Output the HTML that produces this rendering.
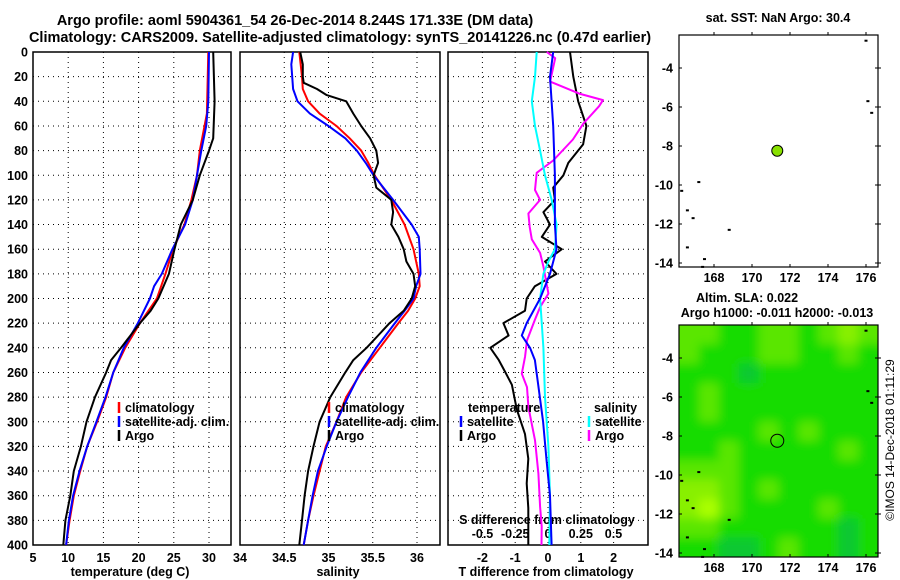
<!DOCTYPE html>
<html><head><meta charset="utf-8"><style>
body{margin:0;background:#fff;}
svg{display:block;font-family:"Liberation Sans",sans-serif;font-weight:bold;}
</style></head><body>
<svg id="chart" width="900" height="580" viewBox="0 0 900 580" xmlns="http://www.w3.org/2000/svg">
<defs>
<clipPath id="mapclip"><rect x="679" y="325" width="199" height="232"/></clipPath>
<filter id="blur" x="-5%" y="-5%" width="110%" height="110%"><feGaussianBlur stdDeviation="5"/></filter>
</defs>
<text x="295" y="25" font-size="14.5" text-anchor="middle">Argo profile: aoml 5904361_54 26-Dec-2014 8.244S 171.33E (DM data)</text>
<text x="340" y="42" font-size="14.5" text-anchor="middle">Climatology: CARS2009. Satellite-adjusted climatology: synTS_20141226.nc (0.47d earlier)</text>
<g id="g"></g>
</svg>
<script>
// ---------- data ----------
const depthTicks=[0,20,40,60,80,100,120,140,160,180,200,220,240,260,280,300,320,340,360,380,400];
const tempTicks=[5,10,15,20,25,30];
const salTicks=[34,34.5,35,35.5,36];
const salTickLabels=['34','34.5','35','35.5','36'];
const dTTicks=[-2,-1,0,1,2];
const dSTicks=[-0.5,-0.25,0,0.25,0.5];
const dSTickLabels=['-0.5','-0.25','0','0.25','0.5'];

const climTDepth=[0,50,80,100,120,140,160,180,200,220,240,260,280,300,320,340,360,380,400];
const climT=[29.9,29.7,28.7,28.3,27.5,26.5,24.9,23.8,22.6,20.2,18.1,16.4,15.4,14.1,12.7,11.7,10.8,10.2,9.7];
const satTDepth=[0,40,60,80,100,120,140,160,180,190,200,220,240,260,280,300,320,340,360,380,400];
const satT=[30.0,29.9,29.6,28.9,28.3,27.7,26.6,24.8,23.3,22.2,21.6,19.9,17.9,16.4,15.3,14.0,12.7,11.6,10.7,10.1,9.7];
const argoTDepth=[0,20,40,70,80,100,120,140,160,180,200,210,220,240,250,260,280,300,320,340,360,380,400];
const argoT=[30.6,30.7,30.8,30.6,30.0,28.7,27.7,26.0,25.1,24.3,22.8,21.7,20.2,17.5,16.1,15.4,13.8,12.6,11.8,10.8,10.3,9.6,9.3];

const climSDepth=[0,20,30,40,50,60,70,80,90,100,120,140,160,180,190,200,210,220,240,260,280,300,320,340,360,380,400];
const climS=[34.67,34.70,34.71,34.77,34.90,35.09,35.24,35.37,35.45,35.52,35.71,35.86,35.96,36.02,36.03,35.98,35.90,35.79,35.58,35.37,35.2,35.09,34.97,34.9,34.83,34.77,34.72];
const satSDepth=[0,10,30,40,50,60,70,80,90,100,120,140,150,160,180,190,200,210,220,240,260,280,300,320,340,360,380,400];
const satS=[34.6,34.58,34.6,34.65,34.79,35.0,35.19,35.32,35.42,35.51,35.73,35.94,36.02,36.03,36.04,35.99,35.96,35.86,35.75,35.54,35.36,35.22,35.09,34.98,34.88,34.82,34.77,34.72];
const argoSDepth=[0,10,20,25,30,35,40,50,60,70,80,90,100,110,120,130,140,150,160,170,180,190,200,210,220,230,240,250,260,280,290,300,320,340,360,380,400];
const argoS=[34.68,34.71,34.71,34.72,34.87,34.98,35.2,35.28,35.37,35.47,35.54,35.56,35.51,35.54,35.71,35.73,35.71,35.79,35.85,35.88,35.96,35.98,35.94,35.85,35.69,35.56,35.43,35.28,35.19,35.02,34.96,34.9,34.83,34.77,34.73,34.70,34.67];

const dSatTDepth=[0,20,60,100,140,160,180,200,220,230,240,250,270,300,330,360,400];
const dSatT=[0.16,0.06,0.16,0.21,0.21,0.26,0.06,-0.24,-0.65,-0.8,-0.55,-0.4,-0.3,-0.15,-0.05,0.06,0.11];
const dArgoTDepth=[0,20,40,60,75,90,100,110,120,130,140,150,160,170,180,190,200,210,220,230,240,250,260,270,290,310,330,350,370,400];
const dArgoT=[0.67,0.77,0.92,1.17,1.07,0.62,0.47,0.16,0.21,-0.14,0.06,-0.19,0.42,-0.09,0.26,-0.4,-0.65,-0.7,-1.36,-1.2,-1.76,-1.5,-1.3,-1.1,-0.95,-0.7,-0.6,-0.65,-0.6,-0.6];
const dSatSDepth=[0,20,40,60,80,100,120,140,160,170,180,200,240,280,320,360,400];
const dSatS=[-0.086,-0.099,-0.124,-0.099,-0.06,-0.023,0.028,0.066,0.053,0.003,-0.035,-0.06,-0.035,-0.023,0.003,0.015,0.01];
const dArgoSDepth=[0,5,24,34,39,44,58,71,88,98,112,120,131,142,152,163,174,196,207,217,234,247,261,272,288,315,342,369,385,400];
const dArgoS=[-0.009,0.055,0.016,0.245,0.42,0.39,0.27,0.19,0.04,-0.086,-0.099,-0.06,-0.15,-0.14,-0.124,-0.06,-0.035,0.003,-0.06,-0.099,-0.16,-0.175,-0.2,-0.16,-0.15,-0.099,-0.073,-0.06,-0.048,-0.05];

const latTicks=[-4,-6,-8,-10,-12,-14];
const lonTicks=[168,170,172,174,176];
const argoLon=171.33, argoLat=-8.244;
const slaGrid=[
[2,2,1,1,2,2,1,2,3,2],
[2,1,1,1,2,2,1,1,2,1],
[1,1,1,0,1,1,1,1,1,1],
[1,2,1,1,1,1,1,1,1,1],
[1,2,1,1,1,1,1,1,1,1],
[1,1,1,1,2,1,2,1,1,1],
[1,1,2,1,1,1,1,1,2,1],
[2,2,2,1,1,1,1,1,1,1],
[3,3,2,1,2,1,1,1,1,1],
[3,4,2,1,1,1,1,2,1,1],
[2,2,1,1,1,1,1,1,0,1],
[1,1,0,0,1,2,1,1,0,1]];

// ---------- helpers ----------
const NS='http://www.w3.org/2000/svg';
const G=document.getElementById('g');
function el(tag,attrs,parent,text){const e=document.createElementNS(NS,tag);for(const k in attrs)e.setAttribute(k,attrs[k]);if(text!==undefined)e.textContent=text;(parent||G).appendChild(e);return e;}
const Y0=52,Y1=545;
const yD=d=>Y0+d*(Y1-Y0)/400;
const xT=t=>33+(t-5)*7.04;
const xS=s=>240+(s-34)*88.5;
const xDT=t=>548+t*32.8;
const xDS=s=>548+s*131;
const panels=[[33,231,'temperature-panel'],[240,440,'salinity-panel'],[448,648,'difference-panel']];

panels.forEach(p=>{
  depthTicks.forEach(d=>{ if(d>0&&d<400){const l=el('line',{x1:p[0],x2:p[1],y1:yD(d),y2:yD(d),stroke:'#000','stroke-width':1,'stroke-dasharray':'1,4'});
  
  }});
});
function vgrid(vals,f,x0,x1){vals.forEach(v=>{const x=f(v);if(x>x0+1&&x<x1-1){const l=el('line',{x1:x,x2:x,y1:Y0,y2:Y1,stroke:'#000','stroke-width':1,'stroke-dasharray':'1,4'});
  
  }});}
vgrid(tempTicks,xT,33,231);vgrid(salTicks,xS,240,440);vgrid(dTTicks,xDT,448,648);

panels.forEach(p=>{const r=el('rect',{x:p[0],y:Y0,width:p[1]-p[0],height:Y1-Y0,fill:'none',stroke:'#000','stroke-width':1.5});
  
  });

depthTicks.forEach(d=>{const t=el('text',{x:28,y:yD(d)+4.5,'font-size':12.5,'text-anchor':'end'},G,String(d));
  
  });
tempTicks.forEach(v=>{const t=el('text',{x:xT(v),y:562,'font-size':12.5,'text-anchor':'middle'},G,String(v));
  
  });
salTicks.forEach((v,i)=>{const t=el('text',{x:xS(v),y:562,'font-size':12.5,'text-anchor':'middle'},G,salTickLabels[i]);
  
  });
dTTicks.forEach(v=>{const t=el('text',{x:xDT(v),y:562,'font-size':12.5,'text-anchor':'middle'},G,String(v));
  
  });
dSTicks.forEach((v,i)=>{const t=el('text',{x:xDS(v),y:538,'font-size':12.5,'text-anchor':'middle'},G,dSTickLabels[i]);
  
  });
[['temperature (deg C)',130,'temperature-axis-title'],['salinity',338,'salinity-axis-title'],['T difference from climatology',546,'t-difference-axis-title']].forEach(a=>{
  const t=el('text',{x:a[1],y:576,'font-size':12.5,'text-anchor':'middle'},G,a[0]);
  
  });
{const t=el('text',{x:547,y:524,'font-size':12.5,'text-anchor':'middle'},G,'S difference from climatology');
  
  }

function series(vals,depths,f,color,name){
  const pts=vals.map((v,i)=>f(v).toFixed(1)+','+yD(depths[i]).toFixed(1)).join(' ');
  const p=el('polyline',{points:pts,fill:'none',stroke:color,'stroke-width':2,'stroke-linejoin':'round'});
  
  
}
series(climT,climTDepth,xT,'#ff0000','climatology-temperature-line');
series(satT,satTDepth,xT,'#0000ff','satellite-temperature-line');
series(argoT,argoTDepth,xT,'#000000','argo-temperature-line');
series(climS,climSDepth,xS,'#ff0000','climatology-salinity-line');
series(satS,satSDepth,xS,'#0000ff','satellite-salinity-line');
series(argoS,argoSDepth,xS,'#000000','argo-salinity-line');
series(dArgoT,dArgoTDepth,xDT,'#000000','argo-t-difference-line');
series(dArgoS,dArgoSDepth,xDS,'#ff00ff','argo-s-difference-line');
series(dSatS,dSatSDepth,xDS,'#00ffff','satellite-s-difference-line');
series(dSatT,dSatTDepth,xDT,'#0000ff','satellite-t-difference-line');

function legend(x,y,color,label,name){
  const g=el('g',{});
  
  
  el('line',{x1:x,x2:x,y1:y-10,y2:y+1,stroke:color,'stroke-width':2.5},g);
  el('text',{x:x+6,y:y,'font-size':12.5},g,label);
}
[[119,'climatology-legend-entry'],[329,'salinity-climatology-legend-entry']].forEach(a=>{
  legend(a[0],412,'#ff0000','climatology',a[1]+'');
  legend(a[0],426,'#0000ff','satellite-adj. clim.',a[1].replace('climatology','satellite'));
  legend(a[0],440,'#000000','Argo',a[1].replace('climatology','argo'));
});
{const t=el('text',{x:468,y:412,'font-size':12.5},G,'temperature');}
{const t=el('text',{x:594,y:412,'font-size':12.5},G,'salinity');}
legend(461,426,'#0000ff','satellite','t-satellite-legend-entry');
legend(461,440,'#000000','Argo','t-argo-legend-entry');
legend(589,426,'#00ffff','satellite','s-satellite-legend-entry');
legend(589,440,'#ff00ff','Argo','s-argo-legend-entry');

// ---------- maps ----------
const MX0=679,MX1=878;
const lonX=lon=>714+(lon-168)*19.0;
function drawMap(off,name,fillGrid){
  const top=35+off,bot=267+off;
  const latY=lat=>68+off+(-4-lat)*19.5;
  if(fillGrid){
    const cols=slaGrid[0].length,rows=slaGrid.length;
    const cw=(MX1-MX0)/cols,ch=(bot-top)/rows;
    const pal=['#10c830','#18dc00','#5ae600','#88f000','#aaff00'];
    const clipG=el('g',{'clip-path':'url(#mapclip)'});
    el('rect',{x:MX0,y:top,width:MX1-MX0,height:bot-top,fill:pal[1]},clipG);
    const bg=el('g',{filter:'url(#blur)'},clipG);
    slaGrid.forEach((row,r)=>row.forEach((v,c)=>{
      const cell=el('rect',{x:MX0+c*cw-(c==0?10:0),y:top+r*ch-(r==0?10:0),width:cw+0.5+(c==0||c==cols-1?10:0),height:ch+0.5+(r==0||r==rows-1?10:0),fill:pal[v]},bg);
      
      
    }));
  }
  [[166.3,-10.3],[166.6,-11.3],[166.9,-11.7],[167.2,-9.85],[166.6,-13.2],[167.5,-13.8],[168.8,-12.3],[176.1,-5.7],[176.3,-6.3],[176.0,-2.6],[167.4,-14.2]].forEach(p=>{
    const d=el('rect',{x:lonX(p[0])-1.5,y:latY(p[1])-1,width:3,height:2,fill:'#000'});
    
    
  });
  const fr=el('rect',{x:MX0,y:top,width:MX1-MX0,height:bot-top,fill:'none',stroke:'#000','stroke-width':1.2});
  
  
  latTicks.forEach(l=>{
    const y=latY(l);
    el('line',{x1:MX0,x2:MX0+3,y1:y,y2:y,stroke:'#000'});
    el('line',{x1:MX1-3,x2:MX1+3,y1:y,y2:y,stroke:'#000'});
    const t=el('text',{x:673,y:y+4.5,'font-size':12.5,'text-anchor':'end'},G,String(l));
    
    
  });
  lonTicks.forEach(l=>{
    const x=lonX(l);
    el('line',{x1:x,x2:x,y1:top-3,y2:top,stroke:'#000'});
    el('line',{x1:x,x2:x,y1:bot,y2:bot-3,stroke:'#000'});
    const t=el('text',{x:x,y:bot+15,'font-size':12.5,'text-anchor':'middle'},G,String(l));
    
    
  });
  const c=el('circle',{cx:lonX(argoLon),cy:latY(argoLat),r:fillGrid?6.5:5.5,fill:fillGrid?'none':'#88e000',stroke:'#000','stroke-width':1});
  
  
}
drawMap(0,'sst-map',false);
drawMap(290,'sla-map',true);
[['sat. SST: NaN Argo: 30.4',778,22,'sst-map-title'],['Altim. SLA: 0.022',747,302,'sla-map-title'],['Argo h1000: -0.011 h2000: -0.013',777,317,'sla-map-subtitle']].forEach(a=>{
  const t=el('text',{x:a[1],y:a[2],'font-size':12.5,'text-anchor':'middle'},G,a[0]);
  
  
});
{const t=el('text',{x:0,y:0,'font-size':12,'font-weight':'normal','text-anchor':'middle',transform:'translate(894,440) rotate(-90)'},G,'©IMOS 14-Dec-2018 01:11:29');
  
  }
</script>
</body></html>
